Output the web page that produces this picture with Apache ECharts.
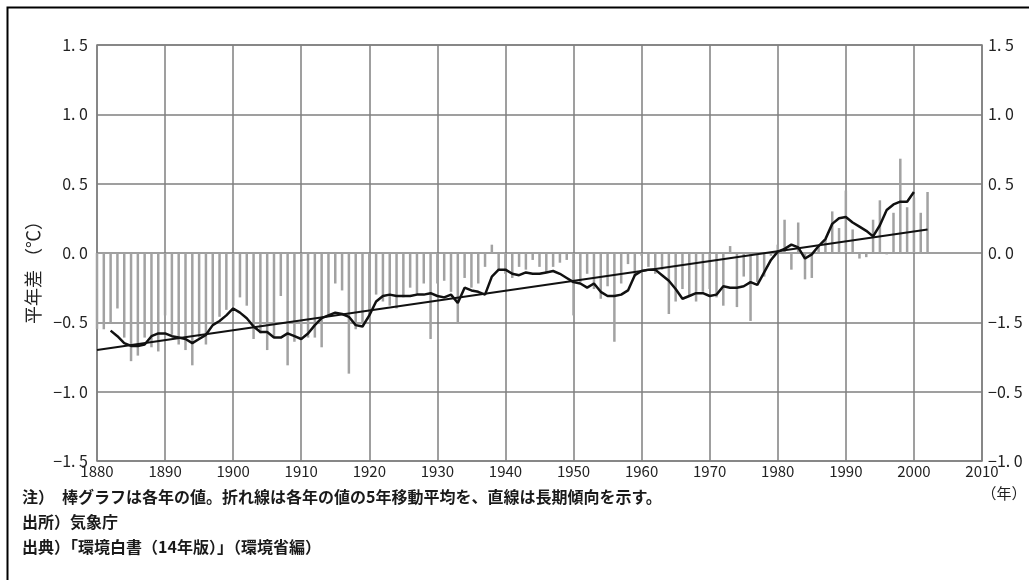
<!DOCTYPE html>
<html>
<head>
<meta charset="utf-8">
<script src="https://cdn.jsdelivr.net/npm/echarts@6/dist/echarts.min.js"></script>
<style>
html,body{margin:0;padding:0;background:#fff;}
#chart{width:1029px;height:580px;}
</style>
</head>
<body>
<div id="chart"></div>
<script>
// ---- data ----
const firstYear = 1880;
const lastYear = 2002;
// annual anomaly (bars), 1880..2002
const anomaly = [
  -0.55,-0.55,-0.50,-0.40,-0.61,-0.78,-0.74,-0.61,-0.68,-0.71, // 1880s
  -0.45,-0.59,-0.66,-0.70,-0.81,-0.61,-0.66,-0.50,-0.46,-0.41, // 1890s
  -0.38,-0.32,-0.38,-0.62,-0.58,-0.70,-0.61,-0.31,-0.81,-0.64, // 1900s
  -0.59,-0.61,-0.61,-0.68,-0.45,-0.22,-0.27,-0.87,-0.55,-0.50, // 1910s
  -0.48,-0.30,-0.35,-0.38,-0.40,-0.32,-0.25,-0.30,-0.22,-0.62, // 1920s
  -0.22,-0.20,-0.28,-0.50,-0.18,-0.25,-0.22,-0.10, 0.06,-0.12, // 1930s
  -0.15,-0.18,-0.10,-0.12,-0.05,-0.10,-0.14,-0.10,-0.07,-0.05, // 1940s
  -0.45,-0.21,-0.15,-0.26,-0.33,-0.24,-0.64,-0.22,-0.08,-0.17, // 1950s
  -0.02,-0.10,-0.15,-0.12,-0.44,-0.35,-0.26,-0.31,-0.35,-0.28, // 1960s
  -0.26,-0.32,-0.38, 0.05,-0.39,-0.17,-0.49,-0.21,-0.17,-0.02, // 1970s
   0.06, 0.24,-0.12, 0.22,-0.19,-0.18, 0.05, 0.10, 0.30, 0.18, // 1980s
   0.45, 0.17,-0.04,-0.03, 0.24, 0.38,-0.01, 0.29, 0.68, 0.33, // 1990s
   0.40, 0.29, 0.44                                            // 2000s
];
// 5-year moving average (line), 1882..2000
const maFirstYear = 1882;
const movingAvg = [
  -0.56,-0.60,-0.65,-0.67,-0.67,-0.66,-0.60,-0.58,            // 1882-1889
  -0.58,-0.60,-0.61,-0.62,-0.65,-0.62,-0.59,-0.52,-0.49,-0.45, // 1890s
  -0.40,-0.43,-0.47,-0.53,-0.57,-0.57,-0.61,-0.61,-0.58,-0.60, // 1900s
  -0.62,-0.58,-0.52,-0.47,-0.45,-0.43,-0.44,-0.46,-0.52,-0.53, // 1910s
  -0.45,-0.35,-0.31,-0.30,-0.31,-0.31,-0.31,-0.30,-0.30,-0.29, // 1920s
  -0.31,-0.32,-0.30,-0.36,-0.25,-0.27,-0.28,-0.30,-0.17,-0.12, // 1930s
  -0.12,-0.15,-0.16,-0.14,-0.15,-0.15,-0.14,-0.13,-0.15,-0.18, // 1940s
  -0.21,-0.22,-0.25,-0.22,-0.28,-0.31,-0.31,-0.30,-0.27,-0.16, // 1950s
  -0.13,-0.12,-0.12,-0.16,-0.20,-0.26,-0.33,-0.31,-0.29,-0.29, // 1960s
  -0.31,-0.30,-0.24,-0.25,-0.25,-0.24,-0.21,-0.23,-0.14,-0.05, // 1970s
   0.01, 0.03, 0.06, 0.04,-0.04,-0.01, 0.05, 0.10, 0.21, 0.25, // 1980s
   0.26, 0.22, 0.19, 0.16, 0.12, 0.20, 0.31, 0.35, 0.37, 0.37, // 1990s
   0.44                                                        // 2000
];
// long-term trend line end points
const trendYears = [1880, 2002];
const trendValues = [-0.70, 0.17];

const yTickValues = [1.5, 1.0, 0.5, 0.0, -0.5, -1.0, -1.5];
const leftTickLabels  = ['1. 5', '1. 0', '0. 5', '0. 0', '−0. 5', '−1. 0', '−1. 5'];
const rightTickLabels = ['1. 5', '1. 0', '0. 5', '0. 0', '−1. 5', '−0. 5', '−1. 0'];
const yAxisTitle = '平年差 （℃）';
const xUnit = '（年）';
const notes = [
  '注）　棒グラフは各年の値。折れ線は各年の値の5年移動平均を、直線は長期傾向を示す。',
  '出所）気象庁',
  '出典）「環境白書（14年版）」（環境省編）'
];

// ---- build series data ----
const barData = anomaly.map((v, i) => [firstYear + i, v]);
const maData = movingAvg.map((v, i) => [maFirstYear + i, v]);
const trendData = trendYears.map((y, i) => [y, trendValues[i]]);

function labelFor(list) {
  return function (v) {
    for (let i = 0; i < yTickValues.length; i++) {
      if (Math.abs(yTickValues[i] - v) < 1e-6) return list[i];
    }
    return '';
  };
}

const FONT = '"Noto Sans CJK JP", "Noto Sans", sans-serif';
const chart = echarts.init(document.getElementById('chart'), null, {renderer: 'canvas'});
const yCommon = {
  type: 'value', min: -1.5, max: 1.5, interval: 0.5,
  axisLine: {show: false}, axisTick: {show: false},
};
chart.setOption({
  animation: false,
  backgroundColor: '#fff',
  grid: {left: 97, right: 47, top: 45, bottom: 119, show: true, borderColor: '#7f7f7f', borderWidth: 1.5},
  xAxis: {
    type: 'value', min: 1880, max: 2010, interval: 10,
    axisLine: {show: false}, axisTick: {show: false},
    splitLine: {show: true, lineStyle: {color: '#7f7f7f', width: 1.5}},
    axisLabel: {color: '#222', fontSize: 15, fontFamily: FONT, margin: 3, formatter: v => String(v)}
  },
  yAxis: [
    Object.assign({}, yCommon, {
      position: 'left',
      splitLine: {show: true, lineStyle: {color: '#7f7f7f', width: 1.5}},
      axisLabel: {color: '#222', fontSize: 16, fontFamily: FONT, margin: 9, formatter: labelFor(leftTickLabels)}
    }),
    Object.assign({}, yCommon, {
      position: 'right',
      splitLine: {show: false},
      axisLabel: {color: '#222', fontSize: 16, fontFamily: FONT, margin: 6, formatter: labelFor(rightTickLabels)}
    })
  ],
  series: [
    {
      type: 'bar', data: barData, barWidth: 2.5, yAxisIndex: 0,
      itemStyle: {color: '#a2a2a2'}, silent: true
    },
    {
      type: 'line', data: trendData, showSymbol: false, yAxisIndex: 0,
      lineStyle: {color: '#111', width: 2}, silent: true
    },
    {
      type: 'line', data: maData, showSymbol: false, yAxisIndex: 0,
      lineStyle: {color: '#111', width: 2.5}, silent: true
    }
  ],
  graphic: [
    {type: 'rect', left: 5, top: 5, shape: {width: 1100, height: 700},
     style: {fill: 'none', stroke: '#000', lineWidth: 2}, silent: true},
    {type: 'text', x: 33, y: 268, rotation: Math.PI / 2,
     style: {text: yAxisTitle, font: '18px ' + FONT, fill: '#222', textAlign: 'center', textVerticalAlign: 'middle'}},
    {type: 'text', x: 1004, y: 493,
     style: {text: xUnit, font: '15px ' + FONT, fill: '#222', textAlign: 'center', textVerticalAlign: 'middle'}},
    {type: 'text', x: 22, y: 497,
     style: {text: notes[0], font: 'bold 16px ' + FONT, fill: '#1a1a1a', textAlign: 'left', textVerticalAlign: 'middle'}},
    {type: 'text', x: 22, y: 522,
     style: {text: notes[1], font: 'bold 16px ' + FONT, fill: '#1a1a1a', textAlign: 'left', textVerticalAlign: 'middle'}},
    {type: 'text', x: 22, y: 547,
     style: {text: notes[2], font: 'bold 16px ' + FONT, fill: '#1a1a1a', textAlign: 'left', textVerticalAlign: 'middle'}}
  ]
});
</script>
</body>
</html>
